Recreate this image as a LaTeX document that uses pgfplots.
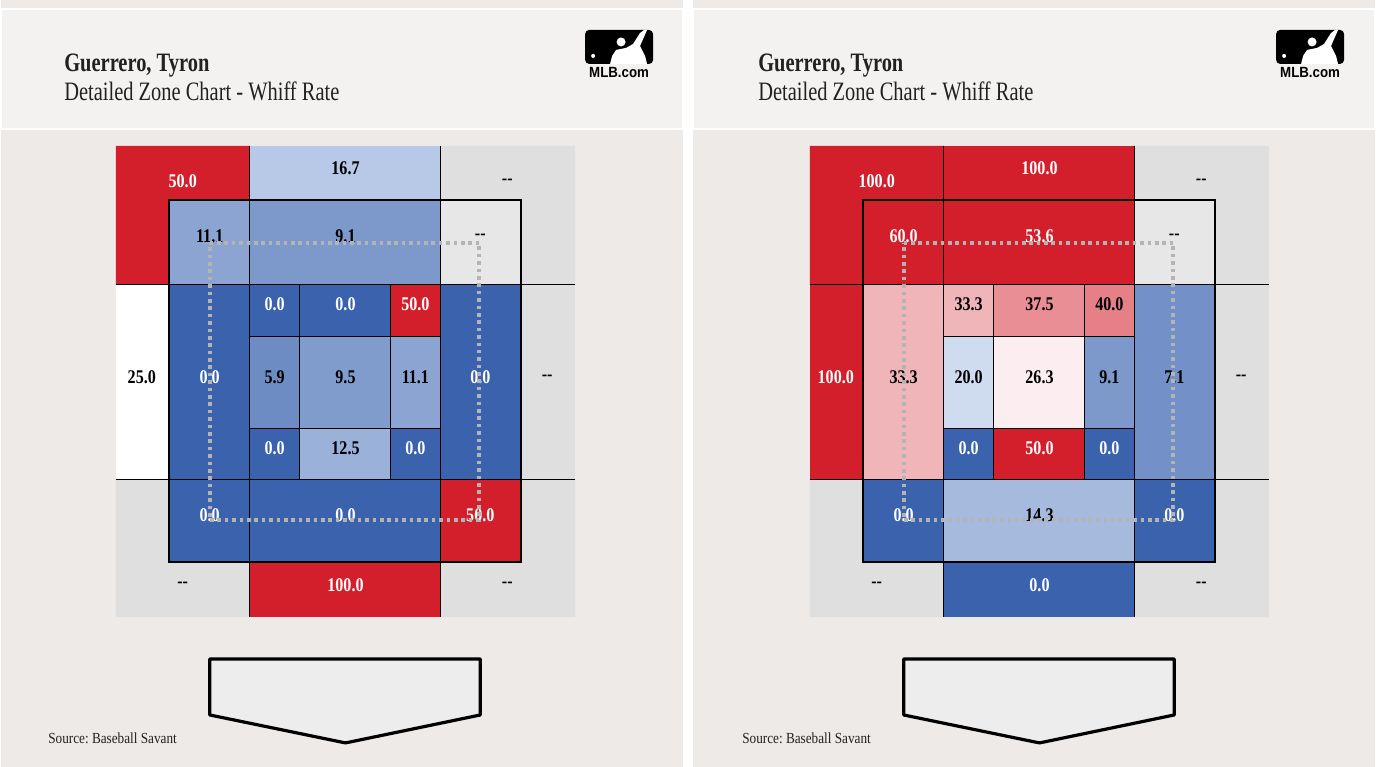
\documentclass[border=0pt]{standalone}
\usepackage{pgfplots}
\pgfplotsset{compat=1.18}
\usepackage{fontspec}
\setmainfont{Liberation Serif}
\newfontfamily\condf{Liberation Serif}[FakeStretch=0.77]
\newfontfamily\valf{Liberation Serif}[FakeStretch=0.83]
\newfontfamily\srcf{Liberation Serif}[FakeStretch=0.86]
\newfontfamily\mlbf{Liberation Sans}[FakeStretch=0.9]
\frenchspacing
\definecolor{bgc}{HTML}{EDEAE7}
\definecolor{hdc}{HTML}{F3F2F0}
\definecolor{cRed}{HTML}{D21F2B}
\definecolor{cDark}{HTML}{3A62AD}
\definecolor{cGray}{HTML}{DFDFDF}
\definecolor{cLGray}{HTML}{E7E7E7}
\definecolor{c59}{HTML}{6E8CC4}
\definecolor{c71}{HTML}{7390C8}
\definecolor{c91}{HTML}{7D99CB}
\definecolor{c95}{HTML}{809CCC}
\definecolor{c111}{HTML}{8BA4D1}
\definecolor{c125}{HTML}{9AB1D9}
\definecolor{c143}{HTML}{A6BADE}
\definecolor{c167}{HTML}{B7C9E6}
\definecolor{c200}{HTML}{CFDBEF}
\definecolor{c250}{HTML}{FFFFFF}
\definecolor{c263}{HTML}{FCEEF0}
\definecolor{c333}{HTML}{F0B5B9}
\definecolor{c375}{HTML}{E88E94}
\definecolor{c400}{HTML}{E58087}
\definecolor{dotc}{HTML}{B4B4B4}
\definecolor{plate}{HTML}{EDEDED}
\pgfplotsset{
  cell/.style={draw=none,fill=#1,forget plot},
  gl/.style={draw=black,line width=0.8pt,forget plot},
  zone/.style={draw=dotc,line width=2pt,dash pattern=on 1.8pt off 1.9pt,forget plot},
  panel/.style={anchor=south west,width=340.5pt,height=384pt,scale only axis,
    xmin=0,xmax=681,ymin=0,ymax=768,y dir=reverse,hide axis,clip=false}
}
\tikzset{
  v/.style={font=\valf\bfseries\fontsize{9.7pt}{11pt}\selectfont,text=black,inner sep=0pt,anchor=center},
  vw/.style={v,text=white}
}
\begin{document}
\begin{tikzpicture}
% ---------- background and headers (pixel coordinates) ----------
\begin{scope}[x=0.5pt,y=-0.5pt,yshift=384pt]
  \fill[bgc] (0,0) rectangle (1376,768);
  \fill[hdc,draw=white,line width=1pt] (0,9) rectangle (683,129);
  \fill[hdc,draw=white,line width=1pt] (693,9) rectangle (1376,129);
  \fill[white] (683,0) rectangle (693,768);
  \foreach \o/\lo in {0/0,695/692}{
    \node[inner sep=0pt,anchor=base west,font=\condf\bfseries\fontsize{13.3pt}{15pt}\selectfont,text=black!87] at (63+\o,72) {Guerrero, Tyron};
    \node[inner sep=0pt,anchor=base west,font=\condf\fontsize{13.3pt}{15pt}\selectfont,text=black!87] at (63+\o,101) {Detailed Zone Chart - Whiff Rate};
    \node[inner sep=0pt,anchor=base west,font=\srcf\fontsize{7.7pt}{9pt}\selectfont,text=black!87] at (47+\o,745) {Source: Baseball Savant};
    % MLB logo
    \fill[black,rounded corners=2pt] (585+\lo,30) rectangle (653+\lo,64);
    \fill[white] (621+\lo,42) circle (4.5);
    \fill[white] (610+\lo,64) -- (612+\lo,56) -- (616+\lo,50) -- (626+\lo,48) -- (633+\lo,44) -- (640+\lo,33) -- (644+\lo,30) -- (647+\lo,30) -- (640+\lo,46) -- (645+\lo,56) -- (647+\lo,64) -- cycle;
    \fill[white] (593+\lo,56) circle (2);
    \node[font=\mlbf\bfseries\fontsize{7.4pt}{8pt}\selectfont,anchor=base,inner sep=0pt] at (619+\lo,78) {MLB.com};
    % home plate
    \draw[fill=plate,line width=1.6pt,line join=round] (209+\o,660) -- (480+\o,660) -- (480+\o,716) -- (345+\o,744) -- (209+\o,716) -- cycle;
  }
\end{scope}
% ================= LEFT PANEL =================
\begin{axis}[panel,at={(0pt,0pt)}]
% outer ring
\addplot[cell=cRed] coordinates {(115,146) (249,146) (249,200) (168,200) (168,285) (115,285)} --cycle;
\addplot[cell=c167] coordinates {(249,146) (440,146) (440,200) (249,200)} --cycle;
\addplot[cell=cGray] coordinates {(440,146) (575,146) (575,285) (521,285) (521,200) (440,200)} --cycle;
\addplot[cell=c250] coordinates {(115,285) (168,285) (168,480) (115,480)} --cycle;
\addplot[cell=cGray] coordinates {(521,285) (575,285) (575,480) (521,480)} --cycle;
\addplot[cell=cGray] coordinates {(115,480) (168,480) (168,563) (249,563) (249,618) (115,618)} --cycle;
\addplot[cell=cRed] coordinates {(249,563) (440,563) (440,618) (249,618)} --cycle;
\addplot[cell=cGray] coordinates {(440,563) (521,563) (521,480) (575,480) (575,618) (440,618)} --cycle;
% middle ring
\addplot[cell=c111] coordinates {(168,200) (249,200) (249,285) (168,285)} --cycle;
\addplot[cell=c91] coordinates {(249,200) (440,200) (440,285) (249,285)} --cycle;
\addplot[cell=cLGray] coordinates {(440,200) (521,200) (521,285) (440,285)} --cycle;
\addplot[cell=cDark] coordinates {(168,285) (249,285) (249,480) (168,480)} --cycle;
\addplot[cell=cDark] coordinates {(440,285) (521,285) (521,480) (440,480)} --cycle;
\addplot[cell=cDark] coordinates {(168,480) (249,480) (249,563) (168,563)} --cycle;
\addplot[cell=cDark] coordinates {(249,480) (440,480) (440,563) (249,563)} --cycle;
\addplot[cell=cRed] coordinates {(440,480) (521,480) (521,563) (440,563)} --cycle;
% inner zone
\addplot[cell=cDark] coordinates {(249,285) (299,285) (299,337) (249,337)} --cycle;
\addplot[cell=cDark] coordinates {(299,285) (390,285) (390,337) (299,337)} --cycle;
\addplot[cell=cRed] coordinates {(390,285) (440,285) (440,337) (390,337)} --cycle;
\addplot[cell=c59] coordinates {(249,337) (299,337) (299,429) (249,429)} --cycle;
\addplot[cell=c95] coordinates {(299,337) (390,337) (390,429) (299,429)} --cycle;
\addplot[cell=c111] coordinates {(390,337) (440,337) (440,429) (390,429)} --cycle;
\addplot[cell=cDark] coordinates {(249,429) (299,429) (299,480) (249,480)} --cycle;
\addplot[cell=c125] coordinates {(299,429) (390,429) (390,480) (299,480)} --cycle;
\addplot[cell=cDark] coordinates {(390,429) (440,429) (440,480) (390,480)} --cycle;
% grid lines
\addplot[gl] coordinates {(115,285) (575,285)};
\addplot[gl] coordinates {(115,480) (575,480)};
\addplot[gl] coordinates {(249,146) (249,618)};
\addplot[gl] coordinates {(440,146) (440,618)};
\addplot[gl] coordinates {(168,200) (521,200) (521,563) (168,563)} --cycle;
\addplot[gl] coordinates {(299,285) (299,480)};
\addplot[gl] coordinates {(390,285) (390,480)};
\addplot[gl] coordinates {(249,337) (440,337)};
\addplot[gl] coordinates {(249,429) (440,429)};
% labels
\node[vw] at (182,181) {50.0};
\node[v]  at (345,168) {16.7};
\node[v]  at (507,182) {{-}{-}};
\node[v]  at (141,378) {25.0};
\node[v]  at (547,378) {{-}{-}};
\node[v]  at (182,586) {{-}{-}};
\node[vw] at (345,586) {100.0};
\node[v]  at (507,586) {{-}{-}};
\node[v]  at (209,237) {11.1};
\node[v]  at (345,237) {9.1};
\node[v]  at (480,237) {{-}{-}};
\node[vw] at (209,378) {0.0};
\node[vw] at (480,378) {0.0};
\node[vw] at (209,516) {0.0};
\node[vw] at (345,516) {0.0};
\node[vw] at (480,516) {50.0};
\node[vw] at (274,305) {0.0};
\node[vw] at (345,305) {0.0};
\node[vw] at (415,305) {50.0};
\node[v]  at (274,378) {5.9};
\node[v]  at (345,378) {9.5};
\node[v]  at (415,378) {11.1};
\node[vw] at (274,449) {0.0};
\node[v]  at (345,449) {12.5};
\node[vw] at (415,449) {0.0};
\addplot[zone] coordinates {(209,243) (479,243) (479,521) (209,521)} --cycle;
\end{axis}
% ================= RIGHT PANEL =================
\begin{axis}[panel,at={(347.5pt,0pt)}]
% outer ring
\addplot[cell=cRed] coordinates {(115,146) (249,146) (249,200) (168,200) (168,285) (115,285)} --cycle;
\addplot[cell=cRed] coordinates {(249,146) (440,146) (440,200) (249,200)} --cycle;
\addplot[cell=cGray] coordinates {(440,146) (575,146) (575,285) (521,285) (521,200) (440,200)} --cycle;
\addplot[cell=cRed] coordinates {(115,285) (168,285) (168,480) (115,480)} --cycle;
\addplot[cell=cGray] coordinates {(521,285) (575,285) (575,480) (521,480)} --cycle;
\addplot[cell=cGray] coordinates {(115,480) (168,480) (168,563) (249,563) (249,618) (115,618)} --cycle;
\addplot[cell=cDark] coordinates {(249,563) (440,563) (440,618) (249,618)} --cycle;
\addplot[cell=cGray] coordinates {(440,563) (521,563) (521,480) (575,480) (575,618) (440,618)} --cycle;
% middle ring
\addplot[cell=cRed] coordinates {(168,200) (249,200) (249,285) (168,285)} --cycle;
\addplot[cell=cRed] coordinates {(249,200) (440,200) (440,285) (249,285)} --cycle;
\addplot[cell=cLGray] coordinates {(440,200) (521,200) (521,285) (440,285)} --cycle;
\addplot[cell=c333] coordinates {(168,285) (249,285) (249,480) (168,480)} --cycle;
\addplot[cell=c71] coordinates {(440,285) (521,285) (521,480) (440,480)} --cycle;
\addplot[cell=cDark] coordinates {(168,480) (249,480) (249,563) (168,563)} --cycle;
\addplot[cell=c143] coordinates {(249,480) (440,480) (440,563) (249,563)} --cycle;
\addplot[cell=cDark] coordinates {(440,480) (521,480) (521,563) (440,563)} --cycle;
% inner zone
\addplot[cell=c333] coordinates {(249,285) (299,285) (299,337) (249,337)} --cycle;
\addplot[cell=c375] coordinates {(299,285) (390,285) (390,337) (299,337)} --cycle;
\addplot[cell=c400] coordinates {(390,285) (440,285) (440,337) (390,337)} --cycle;
\addplot[cell=c200] coordinates {(249,337) (299,337) (299,429) (249,429)} --cycle;
\addplot[cell=c263] coordinates {(299,337) (390,337) (390,429) (299,429)} --cycle;
\addplot[cell=c91] coordinates {(390,337) (440,337) (440,429) (390,429)} --cycle;
\addplot[cell=cDark] coordinates {(249,429) (299,429) (299,480) (249,480)} --cycle;
\addplot[cell=cRed] coordinates {(299,429) (390,429) (390,480) (299,480)} --cycle;
\addplot[cell=cDark] coordinates {(390,429) (440,429) (440,480) (390,480)} --cycle;
% grid lines
\addplot[gl] coordinates {(115,285) (575,285)};
\addplot[gl] coordinates {(115,480) (575,480)};
\addplot[gl] coordinates {(249,146) (249,618)};
\addplot[gl] coordinates {(440,146) (440,618)};
\addplot[gl] coordinates {(168,200) (521,200) (521,563) (168,563)} --cycle;
\addplot[gl] coordinates {(299,285) (299,480)};
\addplot[gl] coordinates {(390,285) (390,480)};
\addplot[gl] coordinates {(249,337) (440,337)};
\addplot[gl] coordinates {(249,429) (440,429)};
% labels
\node[vw] at (182,181) {100.0};
\node[vw] at (345,168) {100.0};
\node[v]  at (507,182) {{-}{-}};
\node[vw] at (141,378) {100.0};
\node[v]  at (547,378) {{-}{-}};
\node[v]  at (182,586) {{-}{-}};
\node[vw] at (345,586) {0.0};
\node[v]  at (507,586) {{-}{-}};
\node[vw] at (209,237) {60.0};
\node[vw] at (345,237) {53.6};
\node[v]  at (480,237) {{-}{-}};
\node[v]  at (209,378) {33.3};
\node[v]  at (480,378) {7.1};
\node[vw] at (209,516) {0.0};
\node[v]  at (345,516) {14.3};
\node[vw] at (480,516) {0.0};
\node[v]  at (274,305) {33.3};
\node[v]  at (345,305) {37.5};
\node[v]  at (415,305) {40.0};
\node[v]  at (274,378) {20.0};
\node[v]  at (345,378) {26.3};
\node[v]  at (415,378) {9.1};
\node[vw] at (274,449) {0.0};
\node[vw] at (345,449) {50.0};
\node[vw] at (415,449) {0.0};
\addplot[zone] coordinates {(209,243) (479,243) (479,521) (209,521)} --cycle;
\end{axis}
\end{tikzpicture}
\end{document}
